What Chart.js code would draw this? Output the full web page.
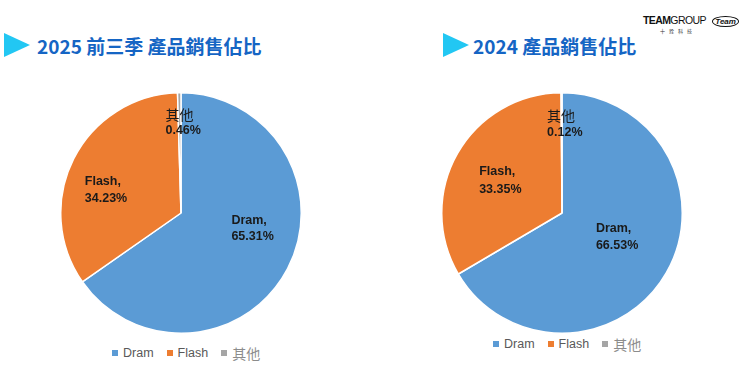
<!DOCTYPE html>
<html><head><meta charset="utf-8">
<script src="https://cdn.jsdelivr.net/npm/chart.js@4/dist/chart.umd.min.js"></script>
<style>
html,body{margin:0;padding:0;background:#fff;}
#wrap{position:relative;width:740px;height:366px;overflow:hidden;font-family:"Liberation Sans",Arial,sans-serif;}
.tri{position:absolute;width:0;height:0;border-top:12.5px solid transparent;border-bottom:12.5px solid transparent;border-left:26px solid #22C7F3;}
.title{position:absolute;font-family:"Noto Sans CJK TC","Noto Sans",sans-serif;font-weight:700;font-size:19px;color:#1565C4;white-space:nowrap;line-height:1;}
.cv{position:absolute;}
.legend{position:absolute;display:flex;align-items:center;white-space:nowrap;font-size:12.5px;color:#595959;}
.legend .it{display:flex;align-items:center;margin-right:13px;}
.legend .sw{width:6px;height:6px;margin-right:5px;}
.legend .cjk{font-family:"Noto Sans CJK TC",sans-serif;font-size:14px;color:#8c8c8c;}
.logo{position:absolute;left:643px;top:10px;font-family:"Liberation Sans",Arial,sans-serif;white-space:nowrap;}
</style></head>
<body><div id="wrap">
  <div class="tri" style="left:4px;top:33px;"></div>
  <div class="title" id="t1" style="left:37px;top:36px;"></div>
  <div class="tri" style="left:443px;top:33px;"></div>
  <div class="title" id="t2" style="left:473px;top:36px;"></div>
  <div class="logo">
    <span style="font-size:10.5px;font-weight:700;letter-spacing:-0.6px;color:#111;">TEAM</span><span style="font-size:10.5px;letter-spacing:-0.6px;color:#111;">GROUP</span>
    <span style="font-size:8px;font-style:italic;font-weight:700;color:#111;border:1px solid #111;border-radius:50%;padding:0 2px;margin-left:2px;">Team</span>
    <div style="font-family:'Noto Sans CJK TC';font-size:5px;color:#333;letter-spacing:4px;margin-left:17px;margin-top:-1px;">十銓科技</div>
  </div>
  <canvas class="cv" id="c1" width="242" height="242" style="left:60px;top:92px;width:242px;height:242px;"></canvas>
  <canvas class="cv" id="c2" width="242" height="242" style="left:441px;top:92px;width:242px;height:242px;"></canvas>
  <div class="legend" id="l1" style="left:112px;top:343px;"></div>
  <div class="legend" id="l2" style="left:493px;top:334px;"></div>
</div>
<script>
// ---- data ----
const categories = ["Dram", "Flash", "其他"];
const share2025Q3 = [65.31, 34.23, 0.46];
const share2024 = [66.53, 33.35, 0.12];
const title2025 = "2025 前三季 產品銷售佔比";
const title2024 = "2024 產品銷售佔比";

// ---- styling ----
const sliceColors = ["#5B9BD5", "#ED7D31", "#A5A5A5"];
// label anchors as fractions of the radius (x of left edge, y of first baseline), and line gap
const labelLayout2025 = [[0.419, 0.095, 16], [-0.80, -0.237, 17], [-0.129, -0.776, 14]];
const labelLayout2024 = [[0.282, 0.162, 17], [-0.689, -0.32, 18], [-0.124, -0.768, 15]];

document.getElementById('t1').textContent = title2025;
document.getElementById('t2').textContent = title2024;

function buildLegend(id){
  const el = document.getElementById(id);
  categories.forEach((c,i)=>{
    const it = document.createElement('div'); it.className='it';
    const sw = document.createElement('div'); sw.className='sw'; sw.style.background = sliceColors[i];
    const tx = document.createElement('span'); tx.textContent = c;
    if (/[\u4e00-\u9fff]/.test(c)) tx.className = 'cjk';
    it.appendChild(sw); it.appendChild(tx); el.appendChild(it);
  });
}
buildLegend('l1'); buildLegend('l2');

const labelPlugin = {
  id: 'sliceLabels',
  afterDatasetsDraw(chart, args, opts){
    const ctx = chart.ctx;
    const meta = chart.getDatasetMeta(0);
    const data = chart.data.datasets[0].data;
    meta.data.forEach((arc, i)=>{
      const r = arc.outerRadius;
      const [fx, fy, gap] = opts.layout[i];
      const x = arc.x + fx * r;
      const y = arc.y + fy * r;
      const name = chart.data.labels[i];
      const pct = data[i].toFixed(2) + '%';
      ctx.save();
      ctx.fillStyle = '#1a1a1a';
      ctx.textAlign = 'left';
      ctx.textBaseline = 'alphabetic';
      if (/[\u4e00-\u9fff]/.test(name)) {
        ctx.font = '14px "Noto Sans CJK TC"';
        ctx.fillText(name, x, y);
      } else {
        ctx.font = 'bold 12.5px "Liberation Sans"';
        ctx.fillText(name + ',', x, y);
      }
      ctx.font = 'bold 12.5px "Liberation Sans"';
      ctx.fillText(pct, x, y + gap);
      ctx.restore();
    });
  }
};

function makePie(id, values, layout){
  new Chart(document.getElementById(id), {
    type: 'pie',
    data: { labels: categories, datasets: [{ data: values, backgroundColor: sliceColors, borderColor: '#ffffff', borderWidth: 1.5 }] },
    options: {
      responsive: false, animation: false, devicePixelRatio: 1,
      layout: { padding: 0 },
      plugins: { legend: { display: false }, tooltip: { enabled: false }, sliceLabels: { layout } }
    },
    plugins: [labelPlugin]
  });
}
makePie('c1', share2025Q3, labelLayout2025);
makePie('c2', share2024, labelLayout2024);
</script>
</body></html>
